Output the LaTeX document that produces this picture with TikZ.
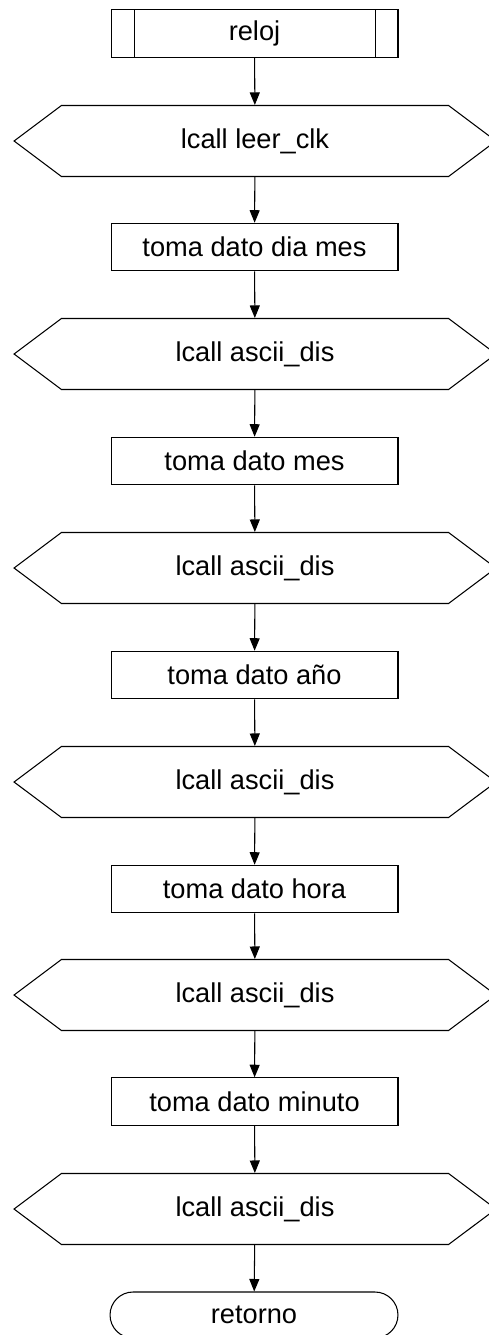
\documentclass[tikz,border=0pt]{standalone}
\usepackage{fontspec}
\setmainfont{Liberation Sans}
\usepackage{tikz}
\usetikzlibrary{shapes.symbols, arrows.meta, positioning}

\begin{document}
\begin{tikzpicture}[
  x=0.02cm, y=-0.02cm,
  every node/.style={font=\fontsize{15.5}{18}\selectfont},
  proc/.style={rectangle, draw, line width=0.6pt, minimum width=5.74cm,
               minimum height=0.95cm, inner sep=0pt},
  sub/.style={proc, path picture={
      \draw[line width=0.6pt] ([xshift=0.47cm]path picture bounding box.north west)
        -- ([xshift=0.47cm]path picture bounding box.south west);
      \draw[line width=0.6pt] ([xshift=-0.45cm]path picture bounding box.north east)
        -- ([xshift=-0.45cm]path picture bounding box.south east);}},
  call/.style={signal, signal to=west and east, signal pointer angle=73.7,
               draw, line width=0.6pt, minimum width=9.64cm,
               minimum height=1.42cm, inner sep=0pt},
  term/.style={rectangle, rounded corners=0.46cm, draw, line width=0.6pt,
               minimum width=5.76cm, minimum height=0.92cm},
  flow/.style={-{Triangle[width=0.2cm, length=0.25cm]}, line width=0.6pt},
]
\useasboundingbox (0,0) rectangle (489,1335);

% --- reloj: leer fecha y hora ---
\node[sub] (reloj) at (254.5,33.5) {reloj};
\node[call] (leer) at (255,141) {lcall leer\_clk};
\node[proc] (diames) at (254.5,247) {toma dato dia mes};
\node[call] (dis1) at (255,354) {lcall ascii\_dis};
\node[proc] (mes) at (254.5,461) {toma dato mes};
\node[call] (dis2) at (255,568) {lcall ascii\_dis};
\node[proc] (anio) at (254.5,675) {toma dato año};
\node[call] (dis3) at (255,782) {lcall ascii\_dis};
\node[proc] (hora) at (254.5,889) {toma dato hora};
\node[call] (dis4) at (255,995) {lcall ascii\_dis};
\node[proc] (minuto) at (254.5,1101.5) {toma dato minuto};
\node[call] (dis5) at (255,1209) {lcall ascii\_dis};
\node[term] (ret) at (254,1315) {retorno};

% --- flujo ---
\draw[flow] (reloj) -- (leer);
\draw[flow] (leer) -- (diames);
\draw[flow] (diames) -- (dis1);
\draw[flow] (dis1) -- (mes);
\draw[flow] (mes) -- (dis2);
\draw[flow] (dis2) -- (anio);
\draw[flow] (anio) -- (dis3);
\draw[flow] (dis3) -- (hora);
\draw[flow] (hora) -- (dis4);
\draw[flow] (dis4) -- (minuto);
\draw[flow] (minuto) -- (dis5);
\draw[flow] (dis5) -- (ret);
\end{tikzpicture}
\end{document}
